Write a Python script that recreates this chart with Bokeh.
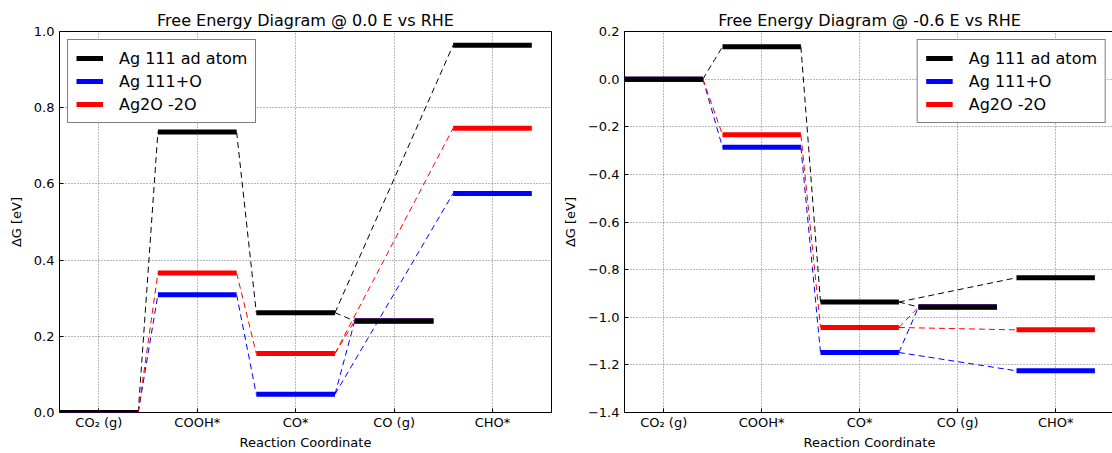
from bokeh.plotting import figure
from bokeh.models import (Range1d, FixedTicker, Legend, LegendItem,
                          CustomJSTickFormatter, ColumnDataSource)
from bokeh.layouts import row
from bokeh.embed import file_html
from bokeh.resources import INLINE

# ---------------- data ----------------
states = ["CO\u2082 (g)", "COOH*", "CO*", "CO (g)", "CHO*"]
series_names = ["Ag 111 ad atom", "Ag 111+O", "Ag2O -2O"]
series_colors = ["black", "blue", "red"]

# Free energies at 0.0 V vs RHE (eV)
black_0V = [0.0, 0.736, 0.262, 0.240, 0.964]
blue_0V = [0.0, 0.309, 0.048, 0.240, 0.575]
red_0V = [0.0, 0.366, 0.155, 0.240, 0.746]

# Free energies at -0.6 V vs RHE (eV)
black_m06 = [0.0, 0.136, -0.936, -0.957, -0.834]
blue_m06 = [0.0, -0.286, -1.148, -0.957, -1.225]
red_m06 = [0.0, -0.234, -1.043, -0.957, -1.053]

# reaction-path connections (from state, to state)
edges = [(0, 1), (1, 2), (2, 3), (2, 4)]

y_ticks_0V = [0.0, 0.2, 0.4, 0.6, 0.8, 1.0]
y_ticks_m06 = [0.2, 0.0, -0.2, -0.4, -0.6, -0.8, -1.0, -1.2, -1.4]

FONT = "DejaVu Sans"
BAR_W = 0.8


def make_panel(title, data, y_lo, y_hi, y_ticks, legend_loc, fw, bl, br):
    p = figure(frame_width=fw, frame_height=381,
               min_border_left=bl, min_border_right=br,
               min_border_top=31, min_border_bottom=41,
               x_range=Range1d(0, len(states)), y_range=Range1d(y_lo, y_hi),
               output_backend="svg", toolbar_location=None,
               background_fill_color="white", border_fill_color="white")
    p.title.text = title
    p.title.align = "center"
    p.title.text_font = FONT
    p.title.text_font_size = "16px"
    p.title.text_font_style = "normal"
    p.title.text_color = "black"
    p.title.standoff = 4

    p.outline_line_color = "black"
    p.outline_line_width = 1

    xt = [i + BAR_W / 2 for i in range(len(states))]
    p.xaxis.ticker = FixedTicker(ticks=xt)
    p.xaxis.major_label_overrides = {x: s for x, s in zip(xt, states)}
    p.yaxis.ticker = FixedTicker(ticks=y_ticks)
    p.yaxis.formatter = CustomJSTickFormatter(
        code="return tick.toFixed(1).replace('-', '\u2212');")
    p.xaxis.axis_label = "Reaction Coordinate"
    p.yaxis.axis_label = "\u0394G [eV]"
    for ax in (p.xaxis, p.yaxis):
        ax.axis_line_color = None
        ax.major_tick_in = 4
        ax.major_tick_out = 0
        ax.major_tick_line_color = "black"
        ax.minor_tick_line_color = None
        ax.major_label_text_font = FONT
        ax.major_label_text_font_size = "13px"
        ax.major_label_text_color = "black"
        ax.axis_label_text_font = FONT
        ax.axis_label_text_font_size = "13px"
        ax.axis_label_text_font_style = "normal"
        ax.axis_label_text_color = "black"
        ax.major_label_standoff = 5
    p.xaxis.major_label_standoff = 2
    p.xaxis.axis_label_standoff = 2
    p.yaxis.axis_label_standoff = 7

    for g in (p.xgrid, p.ygrid):
        g.grid_line_color = "black"
        g.grid_line_alpha = 0.55
        g.grid_line_dash = "1 2"
        g.grid_line_width = 1

    # dashed connectors
    for vals, col in zip(data, series_colors):
        src = ColumnDataSource(dict(
            x0=[a + BAR_W for a, b in edges], y0=[vals[a] for a, b in edges],
            x1=[float(b) for a, b in edges], y1=[vals[b] for a, b in edges]))
        p.segment("x0", "y0", "x1", "y1", source=src, line_color=col,
                  line_width=1, line_dash="6 4")

    # levels: draw red, blue first, black on top
    renderers = {}
    for idx in (2, 1, 0):
        vals = data[idx]
        src = ColumnDataSource(dict(
            x0=[float(i) for i in range(len(states))],
            x1=[i + BAR_W for i in range(len(states))],
            y=vals))
        r = p.segment("x0", "y", "x1", "y", source=src,
                      line_color=series_colors[idx], line_width=5)
        renderers[idx] = r

    legend = Legend(items=[LegendItem(label=series_names[i], renderers=[renderers[i]])
                           for i in range(3)],
                    location=legend_loc)
    legend.label_text_font = FONT
    legend.label_text_font_size = "16px"
    legend.label_text_color = "black"
    legend.glyph_width = 27
    legend.glyph_height = 20
    legend.label_height = 20
    legend.label_standoff = 16
    legend.padding = 8
    legend.spacing = 3
    legend.margin = 8
    legend.border_line_color = "black"
    legend.border_line_width = 1
    legend.background_fill_color = "white"
    legend.background_fill_alpha = 1
    p.add_layout(legend)
    return p


p1 = make_panel("Free Energy Diagram @ 0.0 E vs RHE",
                [black_0V, blue_0V, red_0V], 0.0, 1.0, y_ticks_0V, "top_left",
                492, 59, 8)
p2 = make_panel("Free Energy Diagram @ -0.6 E vs RHE",
                [black_m06, blue_m06, red_m06], -1.4, 0.2, y_ticks_m06, "top_right",
                490, 61, 2)

layout = row(p1, p2)
with open("out.html", "w", encoding="utf-8") as f:
    f.write(file_html(layout, INLINE))
